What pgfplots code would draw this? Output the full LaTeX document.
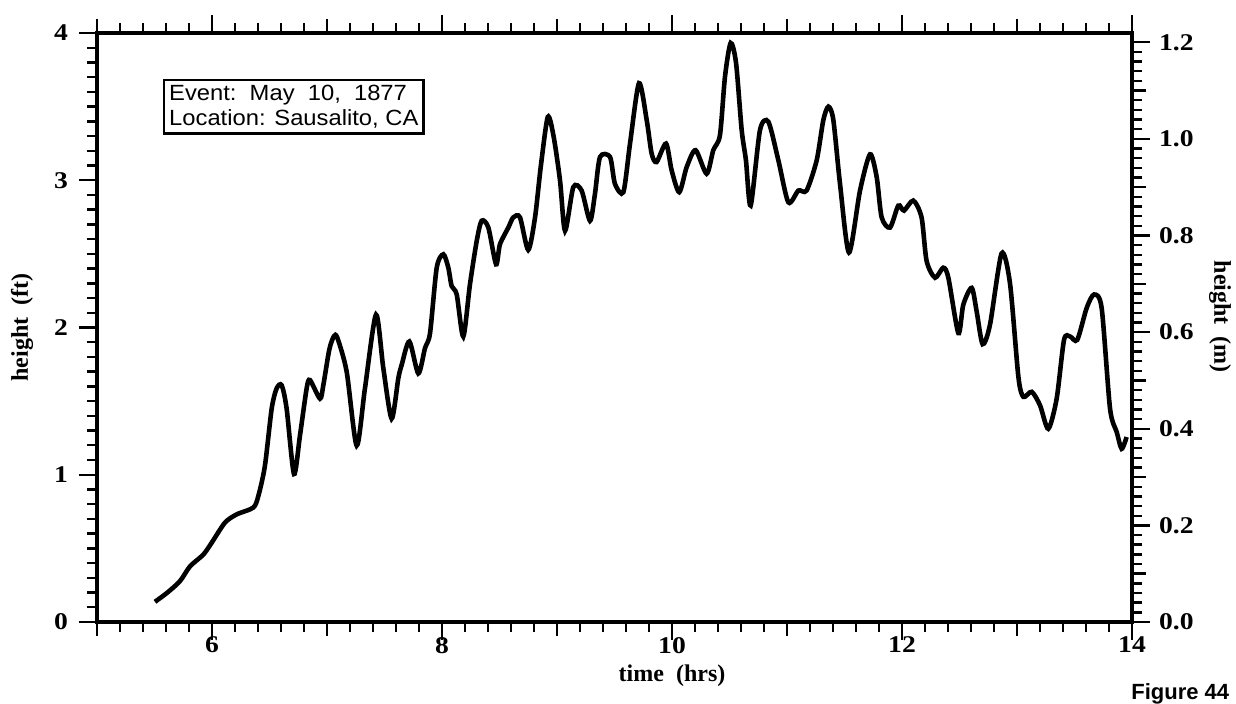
\documentclass[border=0pt]{standalone}
\usepackage{pgfplots}
\pgfplotsset{compat=1.18}
\usepackage{fontspec}
\setmainfont{Liberation Serif}
\newfontfamily\tickfont[FakeStretch=1.15]{Liberation Serif}
\newfontfamily\boxfont[FakeStretch=1.08]{Liberation Sans}
\newfontfamily\capfont{Liberation Sans}

% tide gauge record, height in ft against time in hrs
\pgfplotstableread{
t h
5.504 0.137
5.606 0.196
5.720 0.276
5.809 0.378
5.925 0.458
5.997 0.538
6.113 0.675
6.215 0.731
6.359 0.777
6.403 0.856
6.460 1.060
6.519 1.449
6.562 1.586
6.606 1.608
6.649 1.449
6.713 1.005
6.765 1.267
6.823 1.586
6.852 1.643
6.939 1.517
6.968 1.608
7.020 1.850
7.060 1.940
7.090 1.930
7.171 1.700
7.258 1.198
7.330 1.586
7.426 2.087
7.490 1.722
7.562 1.381
7.620 1.654
7.649 1.745
7.716 1.905
7.794 1.688
7.852 1.859
7.896 1.962
7.954 2.406
8.012 2.497
8.055 2.406
8.084 2.281
8.128 2.224
8.185 1.939
8.243 2.292
8.302 2.588
8.345 2.725
8.403 2.679
8.470 2.429
8.504 2.565
8.577 2.679
8.620 2.748
8.678 2.748
8.750 2.527
8.809 2.748
8.860 3.100
8.920 3.430
8.970 3.300
9.026 3.000
9.070 2.657
9.142 2.953
9.214 2.930
9.287 2.725
9.330 2.907
9.374 3.158
9.461 3.158
9.504 2.975
9.577 2.919
9.635 3.249
9.713 3.659
9.780 3.409
9.823 3.181
9.866 3.124
9.948 3.249
9.997 3.067
10.063 2.919
10.128 3.090
10.205 3.204
10.301 3.044
10.359 3.204
10.417 3.306
10.461 3.705
10.510 3.932
10.557 3.796
10.606 3.340
10.643 3.135
10.684 2.828
10.765 3.340
10.838 3.397
10.925 3.135
11.012 2.850
11.099 2.930
11.170 2.930
11.258 3.135
11.316 3.409
11.360 3.500
11.403 3.409
11.461 2.975
11.539 2.509
11.635 2.930
11.722 3.176
11.780 3.021
11.823 2.748
11.896 2.679
11.968 2.828
12.017 2.794
12.098 2.862
12.170 2.748
12.214 2.452
12.287 2.338
12.359 2.406
12.403 2.338
12.490 1.962
12.533 2.155
12.606 2.269
12.649 2.110
12.701 1.887
12.765 2.018
12.866 2.503
12.939 2.300
13.012 1.665
13.055 1.529
13.128 1.563
13.200 1.472
13.272 1.312
13.345 1.517
13.409 1.916
13.461 1.939
13.524 1.916
13.606 2.133
13.670 2.224
13.736 2.133
13.809 1.449
13.867 1.290
13.910 1.176
13.953 1.256
}\tide

\begin{document}
\begin{tikzpicture}
\useasboundingbox (-48.5pt,-41pt) rectangle (569.5pt,311pt);
\pgfplotsset{
  every axis/.append style={
    width=517.5pt, height=294.5pt, scale only axis,
    xmin=5, xmax=14,
    tick align=outside,
    major tick length=9pt, minor tick length=5pt,
    every tick/.style={line width=1.2pt, black},
    axis line style={line width=1.8pt},
    /pgf/number format/assume math mode=true,
    tick label style={font=\tickfont\bfseries\fontsize{12}{14}\selectfont},
    label style={font=\bfseries\fontsize{12}{14}\selectfont},
  }
}
\begin{axis}[
  ymin=0, ymax=4,
  xtick={6,8,10,12,14},
  minor xtick={5,5.2,...,14},
  extra x ticks={5,7,9,11,13}, extra x tick labels={},
  extra x tick style={major tick length=7pt},
  ytick={0,1,2,3,4}, minor y tick num=9,
  xtick pos=both, ytick pos=left,
  xticklabel shift=-5pt,
  yticklabel style={xshift=-2pt},
  xlabel={time\ \ (hrs)}, ylabel={height\ \ (ft)},
  x label style={at={(axis description cs:0.5556,-0.061)}, anchor=north},
  y label style={at={(axis description cs:-0.0725,0.5)}, anchor=center},
]
\addplot[black, line width=2.3pt, smooth, tension=0.45] table[x=t, y=h] {\tide};
\end{axis}
\begin{axis}[
  ymin=0, ymax=1.2192,
  axis x line=none, axis y line*=right,
  tick align=outside,
  ytick={0,0.2,0.4,0.6,0.8,1.0,1.2}, minor y tick num=9,
  extra y ticks={0.1,0.3,0.5,0.7,0.9,1.1}, extra y tick labels={},
  extra y tick style={major tick length=7pt},
  yticklabel style={xshift=1pt, /pgf/number format/.cd, fixed, fixed zerofill, precision=1},
  ylabel={height\ \ (m)},
  y label style={at={(axis description cs:1.085,0.518)}, rotate=180, anchor=center},
]
\end{axis}
\node[draw, line width=1.2pt, anchor=north west, align=left, inner sep=2.5pt,
  font=\boxfont\fontsize{11}{12.5}\selectfont] at (33pt,271.5pt)
  {Event:\ \ May\ \ 10,\ \ 1877\\Location: Sausalito, CA};
\node[anchor=north west, inner sep=0pt, font=\capfont\bfseries\fontsize{11}{13}\selectfont]
  at (517pt,-30.5pt) {Figure 44};
\end{tikzpicture}
\end{document}
